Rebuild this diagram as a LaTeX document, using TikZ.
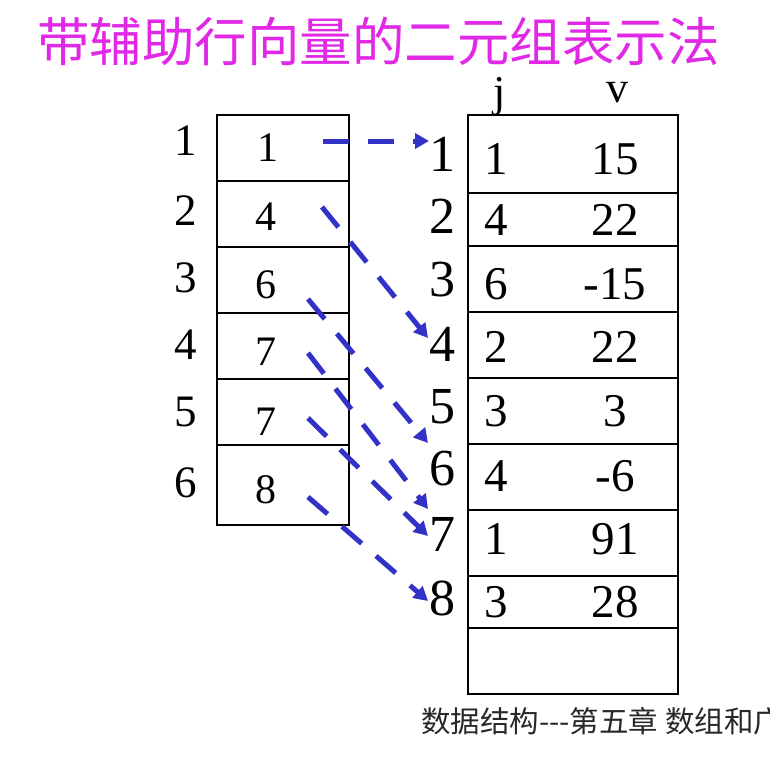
\documentclass[tikz,border=0pt]{standalone}
\usepackage{fontspec}
\setmainfont{Liberation Serif}
\newfontfamily\cjk{Noto Sans CJK SC}
\usetikzlibrary{arrows.meta}
\definecolor{titlemag}{RGB}{225,40,230}
\definecolor{arrblue}{RGB}{50,50,200}
\definecolor{footgray}{RGB}{40,40,40}
\tikzset{
  cellline/.style={draw=black,line width=2.4pt},
  lbl/.style={inner sep=0pt,font=\fontsize{45}{45}\selectfont},
  val/.style={inner sep=0pt,font=\fontsize{42}{42}\selectfont},
  rlbl/.style={inner sep=0pt,anchor=east,font=\fontsize{52}{52}\selectfont},
  tval/.style={inner sep=0pt,font=\fontsize{47}{47}\selectfont},
  ptr/.style={draw=arrblue,line width=5pt,dash pattern=on 26pt off 19pt,
     -{Triangle[length=14pt,width=15pt]}},
}
\begin{document}
\begin{tikzpicture}[x=1pt,y=-1pt]
\useasboundingbox (0,0) rectangle (770,765);
% title
\node[inner sep=0pt,anchor=west,text=titlemag,font=\cjk\fontsize{52.5}{52.5}\selectfont] (title) at (37,42) {带辅助行向量的二元组表示法};
% left box
\draw[cellline] (217,115) rectangle (349,525);
\foreach \y in {181,247,313,379,445} \draw[cellline] (217,\y) -- (349,\y);
\node[lbl] (l1) at (186,141) {1};
\node[lbl] (l2) at (186,211) {2};
\node[lbl] (l3) at (186,278) {3};
\node[lbl] (l4) at (186,345) {4};
\node[lbl] (l5) at (186,412) {5};
\node[lbl] (l6) at (186,483) {6};
\node[val] (a1) at (268,148) {1};
\node[val] (a2) at (266,217) {4};
\node[val] (a3) at (266,285) {6};
\node[val] (a4) at (266,352) {7};
\node[val] (a5) at (266,422) {7};
\node[val] (a6) at (266,490) {8};
% right table
\draw[cellline] (468,115) rectangle (678,694);
\foreach \y in {193,246,312,378,444,510,576,628} \draw[cellline] (468,\y) -- (678,\y);
\node[inner sep=0pt,font=\fontsize{44}{44}\selectfont] (hj) at (500,97) {j};
\node[inner sep=0pt,font=\fontsize{44}{44}\selectfont] (hv) at (617,93) {v};
\node[rlbl] (r1) at (456,154) {1};
\node[rlbl] (r2) at (456,216) {2};
\node[rlbl] (r3) at (456,280) {3};
\node[rlbl] (r4) at (456,344) {4};
\node[rlbl] (r5) at (456,407) {5};
\node[rlbl] (r6) at (456,469) {6};
\node[rlbl] (r7) at (456,534) {7};
\node[rlbl] (r8) at (456,598) {8};
\foreach \r/\y/\j/\v in {1/159/1/15,2/220/4/22,3/284/6/-15,4/347/2/22,5/411/3/3,6/476/4/-6,7/539/1/91,8/602/3/28}{
  \node[tval] (j\r) at (496,\y) {\j};
  \node[tval] (v\r) at (615,\y) {\v};
}
% pointers
\coordinate (s1) at (323,141);
\coordinate (s2) at (322,207);
\coordinate (s3) at (308,299);
\coordinate (s4) at (308,353);
\coordinate (s5) at (308,418);
\coordinate (s6) at (308,497);
\coordinate (e1) at (429,141);
\coordinate (e4) at (428,338);
\coordinate (e6) at (428,443);
\coordinate (e7a) at (428,509);
\coordinate (e7b) at (428,536);
\coordinate (e8) at (428,601);
\draw[ptr] (s1) -- (e1);
\draw[ptr] (s2) -- (e4);
\draw[ptr] (s3) -- (e6);
\draw[ptr] (s4) -- (e7a);
\draw[ptr] (s5) -- (e7b);
\draw[ptr] (s6) -- (e8);
% footer
\begin{scope}
\clip (0,0) rectangle (770,765);
\node[inner sep=0pt,anchor=west,text=footgray,font=\cjk\fontsize{29.5}{29.5}\selectfont] (foot) at (421,721) {数据结构---第五章 数组和广};
\end{scope}
\end{tikzpicture}
\end{document}
